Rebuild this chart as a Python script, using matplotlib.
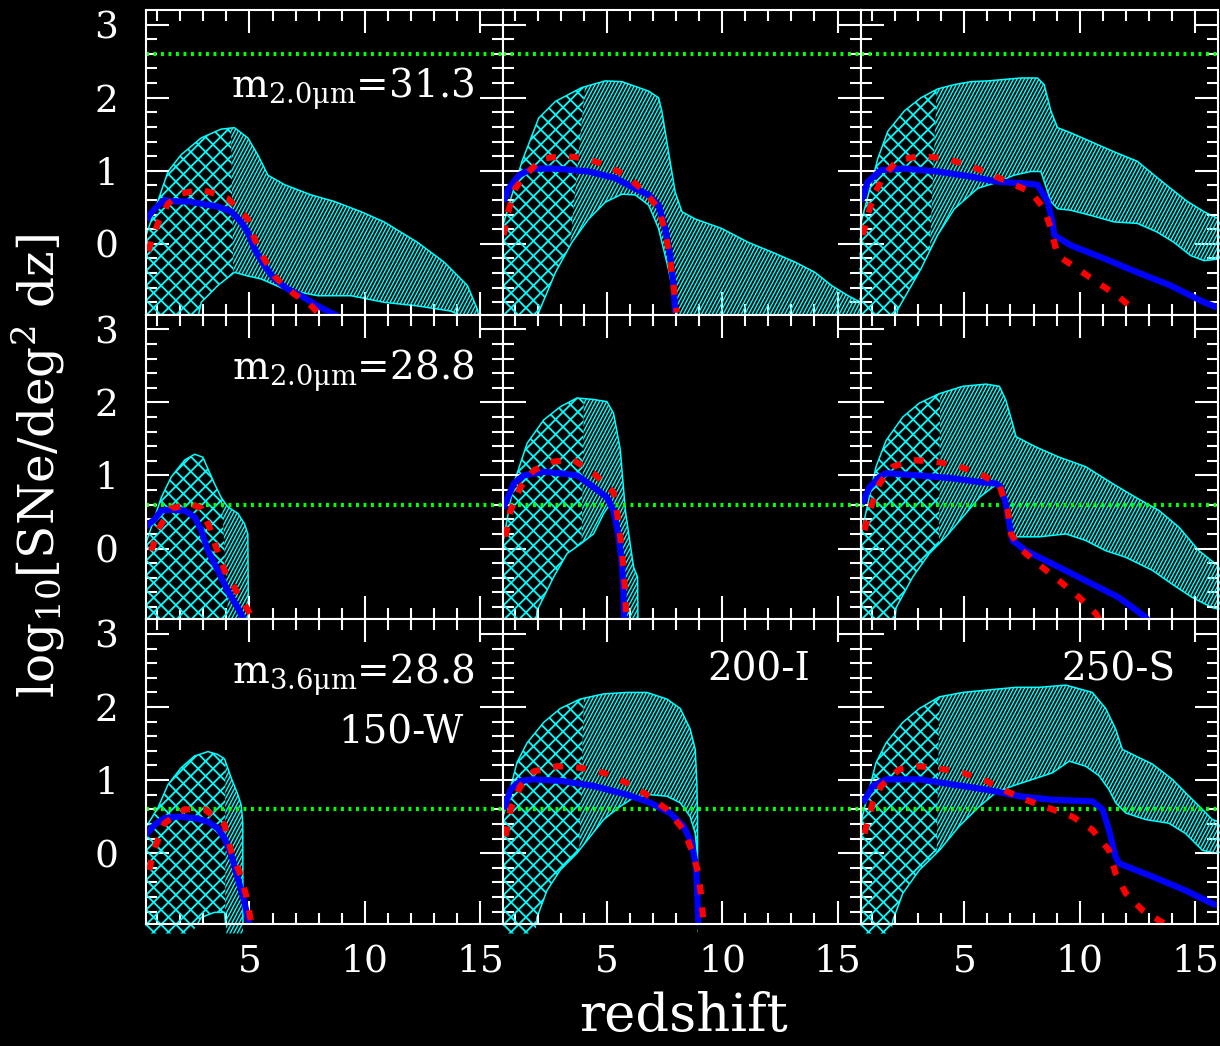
import numpy as np
import matplotlib
matplotlib.use("Agg")
from matplotlib import pyplot as plt
from matplotlib.patches import Polygon
from matplotlib.collections import LineCollection

# (redshift, log10 N) points, panel name = row + column
upper_00 = [(0.5, 0.10), (1.47, 0.99), (2.04, 1.22), (2.91, 1.45), (3.77, 1.57), (4.35, 1.59), (4.93, 1.45),
            (5.36, 1.22), (5.80, 0.94), (6.52, 0.81), (7.67, 0.67), (8.68, 0.58), (9.84, 0.44), (10.84, 0.30),
            (12.29, 0.02), (13.44, -0.25), (14.45, -0.57), (14.89, -0.90), (15.0, -1.1)]
lower_00 = [(0.5, -1.1), (2.7, -1.1), (2.91, -0.80), (3.63, -0.57), (4.35, -0.39), (4.93, -0.44), (5.5, -0.48),
            (6.52, -0.62), (7.96, -0.71), (9.40, -0.71), (10.84, -0.80), (12.29, -0.85), (13.73, -0.92), (15.0, -1.1)]
blue_00 = [(0.5, 0.33), (0.89, 0.48), (1.32, 0.60), (1.76, 0.58), (2.33, 0.58), (2.91, 0.55), (3.63, 0.51),
           (4.21, 0.44), (4.64, 0.30), (4.93, 0.16), (5.22, -0.07), (5.65, -0.30), (6.08, -0.48), (6.66, -0.62),
           (7.24, -0.71), (7.96, -0.85), (8.83, -0.99)]
red_00 = [(0.6, -0.10), (1.03, 0.28), (1.47, 0.55), (2.04, 0.69), (2.91, 0.74), (3.48, 0.69), (4.06, 0.62),
          (4.64, 0.44), (4.93, 0.34), (5.22, 0.07), (5.65, -0.21), (6.08, -0.44), (6.52, -0.58), (6.95, -0.69),
          (7.53, -0.80), (7.96, -0.94)]

upper_01 = [(0.45, 0.21), (1.32, 1.13), (2.04, 1.72), (2.77, 1.95), (3.92, 2.14), (4.93, 2.23), (5.65, 2.22),
            (6.81, 2.09), (7.24, 2.00), (7.38, 1.82), (7.67, 1.26), (7.96, 0.71), (8.25, 0.44), (8.83, 0.34),
            (9.98, 0.21), (11.13, 0.02), (12.14, -0.11), (13.16, -0.25), (14.02, -0.39), (14.74, -0.57),
            (15.46, -0.71), (16.3, -0.85)]
lower_01 = [(0.45, -1.1), (1.95, -1.1), (2.04, -0.94), (2.77, -0.39), (3.48, 0.02), (4.21, 0.34), (4.93, 0.57),
            (5.65, 0.68), (6.23, 0.67), (6.81, 0.53), (7.24, 0.21), (7.67, -0.35), (7.96, -0.80), (8.1, -1.1),
            (16.3, -1.1)]
blue_01 = [(0.53, 0.58), (0.74, 0.76), (1.18, 0.94), (1.75, 1.03), (2.77, 1.03), (4.21, 0.99), (5.36, 0.90),
           (6.08, 0.78), (6.81, 0.67), (7.24, 0.53), (7.53, 0.21), (7.74, -0.16), (7.89, -0.57), (7.96, -0.94)]
red_01 = [(0.53, 0.12), (0.67, 0.39), (1.03, 0.76), (1.47, 0.94), (2.19, 1.17), (3.20, 1.20), (4.06, 1.17),
          (4.93, 1.08), (5.80, 0.94), (6.66, 0.71), (7.24, 0.48), (7.53, 0.16), (7.74, -0.21), (7.89, -0.57),
          (8.03, -0.94)]

upper_02 = [(0.45, 0.21), (1.25, 1.17), (1.68, 1.54), (2.40, 1.82), (3.12, 2.00), (3.84, 2.12), (4.57, 2.18),
            (5.29, 2.22), (6.01, 2.23), (6.73, 2.25), (7.45, 2.27), (8.17, 2.27), (8.46, 2.18), (8.75, 1.82),
            (9.04, 1.59), (9.61, 1.52), (10.48, 1.40), (11.49, 1.26), (12.50, 1.13), (13.23, 0.94),
            (13.94, 0.76), (14.67, 0.58), (15.39, 0.44), (16.3, 0.30)]
lower_02 = [(0.45, -1.1), (2.0, -1.1), (2.11, -0.90), (3.12, -0.34), (3.84, 0.12), (4.57, 0.48), (5.58, 0.76),
            (6.30, 0.83), (7.16, 0.94), (7.88, 0.99), (8.32, 0.99), (8.75, 0.58), (9.04, 0.48), (9.61, 0.46),
            (10.48, 0.39), (11.49, 0.30), (12.50, 0.28), (13.37, 0.16), (14.09, 0.02), (14.81, -0.16),
            (15.39, -0.23), (16.3, -0.20)]
blue_02 = [(0.52, 0.58), (0.81, 0.85), (1.39, 1.01), (2.40, 1.03), (3.84, 0.99), (5.29, 0.92), (6.44, 0.85),
           (7.45, 0.83), (8.17, 0.81), (8.61, 0.58), (8.82, 0.30), (8.90, 0.12), (9.61, -0.02), (11.06, -0.20),
           (12.50, -0.39), (13.94, -0.57), (15.39, -0.80), (15.97, -0.87)]
red_02 = [(0.6, 0.12), (0.81, 0.39), (1.10, 0.69), (1.54, 0.94), (2.11, 1.15), (3.12, 1.20), (4.13, 1.17),
          (5.14, 1.08), (6.01, 0.97), (7.02, 0.83), (7.88, 0.71), (8.46, 0.48), (8.75, 0.21), (9.04, -0.16),
          (9.90, -0.34), (10.77, -0.53), (11.64, -0.71), (12.50, -0.94)]

upper_10 = [(0.5, 0.06), (1.18, 0.70), (1.61, 0.98), (2.19, 1.21), (2.62, 1.29), (2.98, 1.25), (3.20, 1.09),
            (3.48, 0.89), (3.77, 0.70), (4.06, 0.57), (4.50, 0.48), (4.78, 0.34), (4.93, 0.20), (4.96, -1.1)]
lower_10 = [(0.5, -1.1), (4.96, -1.1)]
blue_10 = [(0.5, 0.30), (0.89, 0.40), (1.18, 0.52), (1.61, 0.53), (2.19, 0.52), (2.62, 0.43), (2.91, 0.25),
           (3.20, -0.03), (3.63, -0.30), (4.06, -0.58), (4.50, -0.81), (4.78, -1.0)]
red_10 = [(0.74, -0.03), (1.10, 0.29), (1.61, 0.55), (2.48, 0.61), (2.91, 0.55), (3.27, 0.29), (3.55, 0.02),
          (3.92, -0.30), (4.43, -0.58), (4.78, -0.76), (5.07, -0.92)]

upper_11 = [(0.5, 0.10), (0.96, 0.89), (1.54, 1.44), (2.26, 1.76), (2.98, 1.94), (3.70, 2.06), (4.42, 2.04),
            (5.00, 2.01), (5.29, 1.85), (5.58, 1.35), (5.80, 0.52), (6.01, 0.06), (6.16, -0.26), (6.33, -0.39),
            (6.35, -1.1)]
lower_11 = [(0.5, -1.1), (1.9, -1.1), (1.97, -0.85), (2.69, -0.39), (3.27, -0.07), (3.85, 0.06), (4.42, 0.20),
            (4.86, 0.48), (5.14, 0.61), (5.43, 0.34), (5.65, -0.16), (5.80, -0.85), (5.85, -1.1), (6.35, -1.1)]
blue_11 = [(0.5, 0.55), (0.96, 0.89), (1.39, 1.00), (2.26, 1.05), (2.98, 1.03), (3.70, 1.00), (4.42, 0.84),
           (5.00, 0.70), (5.29, 0.52), (5.51, 0.16), (5.65, -0.21), (5.72, -0.62), (5.75, -0.96)]
red_11 = [(0.6, 0.16), (0.82, 0.52), (1.25, 0.84), (1.83, 1.07), (2.69, 1.19), (3.56, 1.21), (4.42, 1.03),
          (5.29, 0.77), (5.43, 0.52), (5.58, 0.16), (5.72, -0.26), (5.80, -0.62), (5.84, -0.96)]

upper_12 = [(0.5, 0.16), (1.17, 1.12), (1.61, 1.48), (2.33, 1.80), (3.05, 1.99), (3.92, 2.12), (4.93, 2.22),
            (5.94, 2.25), (6.52, 2.22), (6.80, 2.03), (7.09, 1.71), (7.24, 1.53), (8.10, 1.39), (9.11, 1.25),
            (10.26, 1.12), (11.42, 0.89), (12.43, 0.70), (13.44, 0.52), (14.31, 0.29), (15.17, -0.03),
            (15.89, -0.21), (16.3, -0.26)]
lower_12 = [(0.5, -1.1), (1.95, -1.1), (2.04, -0.81), (2.76, -0.39), (3.48, -0.07), (4.20, 0.16), (4.93, 0.43),
            (5.65, 0.70), (6.23, 0.84), (6.52, 0.89), (6.80, 0.70), (6.95, 0.43), (7.09, 0.16), (8.25, 0.16),
            (9.40, 0.20), (10.26, 0.11), (11.13, -0.03), (12.00, -0.12), (13.16, -0.30), (14.02, -0.49),
            (14.88, -0.67), (15.75, -0.81), (16.3, -0.85)]
blue_12 = [(0.55, 0.61), (0.89, 0.84), (1.32, 0.98), (1.61, 1.03), (3.05, 1.00), (4.50, 0.96), (5.65, 0.91),
           (6.37, 0.89), (6.59, 0.84), (6.80, 0.61), (6.95, 0.34), (7.09, 0.11), (7.67, -0.03), (8.82, -0.21),
           (10.26, -0.44), (11.70, -0.67), (12.86, -0.94), (13.0, -1.0)]
red_12 = [(0.67, 0.25), (0.89, 0.52), (1.32, 0.89), (1.90, 1.12), (2.76, 1.21), (3.77, 1.19), (4.78, 1.12),
          (5.65, 1.03), (6.52, 0.87), (6.88, 0.52), (7.02, 0.20), (7.52, -0.03), (8.39, -0.26), (9.11, -0.44),
          (9.98, -0.67), (10.70, -0.89), (10.85, -0.97)]

upper_20 = [(0.5, 0.35), (1.03, 0.62), (1.47, 0.94), (2.04, 1.17), (2.62, 1.33), (3.20, 1.39), (3.63, 1.35),
            (3.92, 1.29), (4.21, 1.03), (4.50, 0.80), (4.64, 0.66), (4.71, 0.43), (4.72, -1.1)]
lower_20 = [(0.5, -1.1), (2.5, -1.1), (2.91, -0.88), (3.48, -0.81), (3.92, -0.81), (4.0, -1.1), (4.72, -1.1)]
blue_20 = [(0.5, 0.25), (0.89, 0.39), (1.32, 0.48), (1.90, 0.50), (2.62, 0.48), (3.20, 0.43), (3.63, 0.34),
           (3.92, 0.20), (4.21, -0.02), (4.50, -0.35), (4.78, -0.67), (5.0, -0.99)]
red_20 = [(0.65, -0.23), (0.89, 0.07), (1.32, 0.41), (2.19, 0.60), (3.06, 0.60), (3.92, 0.39), (4.21, 0.02),
          (4.57, -0.26), (4.86, -0.58), (5.07, -0.94)]

upper_21 = [(0.5, 0.50), (1.10, 1.24), (1.54, 1.51), (2.26, 1.79), (2.98, 1.98), (3.85, 2.11), (4.86, 2.18),
            (5.87, 2.20), (6.73, 2.20), (7.60, 2.11), (8.18, 1.98), (8.61, 1.70), (8.83, 1.42), (8.90, 0.96),
            (8.93, 0.50), (8.93, -1.1)]
lower_21 = [(0.5, -1.1), (1.9, -1.1), (1.97, -0.88), (2.40, -0.51), (2.98, -0.23), (3.70, 0.0), (4.28, 0.23),
            (4.86, 0.46), (5.58, 0.64), (6.16, 0.76), (6.88, 0.80), (7.60, 0.78), (8.18, 0.69), (8.61, 0.50),
            (8.83, 0.27), (8.90, 0.04), (8.91, -1.1)]
blue_21 = [(0.53, 0.60), (0.82, 0.87), (1.25, 0.99), (1.83, 1.01), (2.98, 0.99), (4.42, 0.92), (5.87, 0.80),
           (6.88, 0.69), (7.74, 0.55), (8.32, 0.37), (8.68, 0.14), (8.87, -0.19), (8.93, -0.65), (8.97, -0.97)]
red_21 = [(0.6, 0.23), (0.82, 0.60), (1.25, 0.92), (1.83, 1.12), (2.84, 1.19), (3.85, 1.17), (4.86, 1.10),
          (5.87, 0.96), (6.73, 0.80), (7.60, 0.60), (8.32, 0.32), (8.68, 0.04), (8.97, -0.28), (9.11, -0.65),
          (9.19, -0.97)]

upper_22 = [(0.5, 0.41), (1.17, 1.24), (1.61, 1.51), (2.33, 1.79), (3.05, 1.98), (3.92, 2.14), (4.93, 2.20),
            (6.23, 2.24), (7.24, 2.27), (8.25, 2.27), (9.40, 2.30), (10.55, 2.20), (11.13, 1.98), (11.56, 1.70),
            (11.85, 1.42), (12.43, 1.33), (13.15, 1.22), (14.02, 1.01), (14.74, 0.78), (15.32, 0.60),
            (15.75, 0.46), (16.3, 0.40)]
lower_22 = [(0.5, -1.1), (1.85, -1.1), (1.90, -0.92), (2.33, -0.55), (3.05, -0.23), (3.92, 0.04), (4.78, 0.37),
            (5.65, 0.64), (6.37, 0.83), (7.09, 0.92), (7.96, 1.01), (8.82, 1.10), (9.55, 1.26), (10.26, 1.19),
            (10.84, 1.06), (11.27, 0.87), (11.56, 0.69), (12.00, 0.55), (12.86, 0.46), (13.87, 0.41),
            (14.59, 0.27), (15.32, 0.04), (15.89, 0.0), (16.3, 0.0)]
blue_22 = [(0.6, 0.69), (1.03, 0.92), (1.61, 1.01), (3.05, 1.01), (4.49, 0.94), (5.94, 0.87), (7.38, 0.78),
           (8.82, 0.73), (10.55, 0.71), (10.99, 0.60), (11.27, 0.32), (11.56, -0.05), (11.71, -0.14),
           (13.15, -0.32), (14.59, -0.51), (15.75, -0.69), (15.97, -0.71)]
red_22 = [(0.67, 0.27), (1.03, 0.69), (1.39, 0.92), (2.19, 1.15), (3.05, 1.19), (4.06, 1.15), (4.93, 1.10),
          (5.94, 0.99), (6.80, 0.85), (7.67, 0.73), (8.82, 0.60), (9.69, 0.50), (10.55, 0.32), (11.27, 0.04),
          (11.56, -0.28), (12.0, -0.55), (12.72, -0.78), (13.44, -0.92), (13.7, -0.97)]

# redshift where the cross-hatched part ends (at top edge, at bottom edge of band)
splits = [[(4.2, 4.3), (4.05, 3.4), (3.8, 3.5)],
          [(3.8, 4.1), (4.0, 3.9), (3.95, 3.9)],
          [(3.95, 3.95), (4.0, 3.8), (3.92, 3.8)]]

# detection limit levels (green dotted), one per row
limit_levels = [2.6, 0.6, 0.6]

labels = [[r'm$_{\mathrm{2.0μm}}$=31.3', '', ''],
          [r'm$_{\mathrm{2.0μm}}$=28.8', '', ''],
          [r'm$_{\mathrm{3.6μm}}$=28.8', '200-I', '250-S']]
label_pos = [[(14.75, 2.0), None, None],
             [(14.75, 2.31), None, None],
             [(14.75, 2.32), (13.8, 2.37), (14.15, 2.37)]]
extra_label = '150-W'

uppers = [[upper_00, upper_01, upper_02], [upper_10, upper_11, upper_12], [upper_20, upper_21, upper_22]]
lowers = [[lower_00, lower_01, lower_02], [lower_10, lower_11, lower_12], [lower_20, lower_21, lower_22]]
blues = [[blue_00, blue_01, blue_02], [blue_10, blue_11, blue_12], [blue_20, blue_21, blue_22]]
reds = [[red_00, red_01, red_02], [red_10, red_11, red_12], [red_20, red_21, red_22]]

CYAN = '#00ffff'
plt.rcParams['font.family'] = 'DejaVu Serif'
plt.rcParams['mathtext.fontset'] = 'dejavuserif'

W_PX, H_PX = 1220, 1046
fig, axes = plt.subplots(3, 3, figsize=(W_PX / 100, H_PX / 100), dpi=100, sharex=True, sharey=True)
fig.patch.set_facecolor('black')
fig.subplots_adjust(left=0.1194, right=0.9984, top=0.9904, bottom=0.1166, wspace=0, hspace=0)


def hatch(ax, clip, angle, step, lw):
    # straight line hatching in pixel space, clipped to the patch
    pos = ax.get_position()
    w, h = pos.width * W_PX, pos.height * H_PX
    th = np.radians(angle)
    d = np.array([np.cos(th), np.sin(th)])
    n = np.array([-np.sin(th), np.cos(th)])
    proj = np.array([[0, 0], [w, 0], [0, h], [w, h]]) @ n
    L = w + h
    segs = []
    for c in np.arange(proj.min(), proj.max() + step, step):
        p0 = (c * n - L * d) / [w, h]
        p1 = (c * n + L * d) / [w, h]
        segs.append([p0, p1])
    lc = LineCollection(segs, colors=CYAN, linewidths=lw, transform=ax.transAxes)
    lc.set_clip_path(clip)
    ax.add_collection(lc, autolim=False)


for i in range(3):
    for j in range(3):
        ax = axes[i, j]
        ax.set_facecolor('black')
        up, lo = uppers[i][j], lowers[i][j]
        ux, uy = np.array(up).T
        lx, ly = np.array(lo).T
        xt, xb = splits[i][j]
        yt, yb = np.interp(xt, ux, uy), np.interp(xb, lx, ly)

        cross = [p for p in up if p[0] < xt] + [(xt, yt), (xb, yb)] + [p for p in lo if p[0] < xb][::-1]
        diag = [(xt, yt)] + [p for p in up if p[0] > xt] + [p for p in lo if p[0] > xb][::-1] + [(xb, yb)]
        pc = Polygon(cross, closed=True, facecolor='none', edgecolor='none')
        pd = Polygon(diag, closed=True, facecolor='none', edgecolor='none')
        ax.add_patch(pc)
        ax.add_patch(pd)
        hatch(ax, pc, 45, 10.5, 1.3)
        hatch(ax, pc, -45, 10.5, 1.3)
        hatch(ax, pd, 62, 3.2, 1.0)
        ax.add_patch(Polygon(up + lo[::-1], closed=True, facecolor='none', edgecolor=CYAN, lw=1.1))

        ax.axhline(limit_levels[i], color='#00ff00', lw=3.0, dashes=(0.7, 1.1))

        bx, by = np.array(blues[i][j]).T
        ax.plot(bx, by, color='#0000ff', lw=4.5, solid_capstyle='butt')
        rx, ry = np.array(reds[i][j]).T
        ax.plot(rx, ry, color='#ff0000', lw=4.5, dashes=(1.6, 2.1))

        if labels[i][j]:
            lx0, ly0 = label_pos[i][j]
            ax.text(lx0, ly0, labels[i][j], color='white', fontsize=28, ha='right', va='baseline')

        ax.set_xlim(0.5, 16.0)
        ax.set_ylim(-0.97, 3.2)
        ax.set_xticks([5, 10, 15])
        ax.set_xticks(np.arange(1, 16), minor=True)
        ax.set_yticks([0, 1, 2, 3])
        ax.set_yticks(np.arange(-0.8, 3.2, 0.2), minor=True)
        ax.tick_params(which='both', direction='in', top=True, right=True, color='white',
                       labelcolor='white', width=1.5, labelsize=27)
        ax.tick_params(which='major', length=16.5)
        ax.tick_params(which='minor', length=8)
        ax.tick_params(axis='y', pad=20)
        ax.tick_params(axis='x', pad=14)
        for s in ax.spines.values():
            s.set_color('white')
            s.set_linewidth(1.5)

axes[2, 0].text(14.3, 1.5, extra_label, color='white', fontsize=28, ha='right', va='baseline')

fig.text(0.56, 0.004, 'redshift', color='white', fontsize=38, ha='center', va='bottom')
fig.text(0.031, 0.555, r'log$_{10}$[SNe/deg$^2$ dz]', color='white', fontsize=35,
         ha='center', va='center', rotation=90)

fig.savefig('out.png', dpi=100, facecolor='black')
